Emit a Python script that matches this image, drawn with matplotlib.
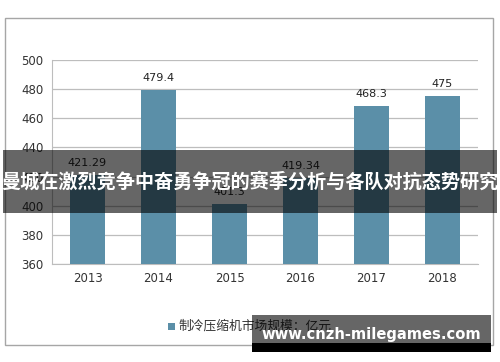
import matplotlib
matplotlib.use("Agg")
import matplotlib.pyplot as plt
from matplotlib.patches import Rectangle

plt.rcParams['font.family'] = ['Noto Sans CJK SC', 'DejaVu Sans']

years = ["2013", "2014", "2015", "2016", "2017", "2018"]
values = [421.29, 479.4, 401.3, 419.34, 468.3, 475]
value_labels = ["421.29", "479.4", "401.3", "419.34", "468.3", "475"]
yticks = [360, 380, 400, 420, 440, 460, 480, 500]
legend_text = "制冷压缩机市场规模：亿元"
banner_text = "曼城在激烈竞争中奋勇争冠的赛季分析与各队对抗态势研究"
site_text = "www.cnzh-milegames.com"

W, H = 500, 362
fig = plt.figure(figsize=(W / 100, H / 100), dpi=100)


def px(x0, y0, x1, y1):
    # pixel box (top-left origin) -> figure fraction rect
    return [x0 / W, 1 - y1 / H, (x1 - x0) / W, (y1 - y0) / H]


def box(x0, y0, x1, y1, **kw):
    fig.patches.append(Rectangle((x0 / W, 1 - y1 / H), (x1 - x0) / W,
                                 (y1 - y0) / H, transform=fig.transFigure,
                                 **kw))


# outer chart frame
box(5, 18, 493, 345, fill=False, edgecolor="#a6a6a6", linewidth=1.0)

ax = fig.add_axes(px(52, 60, 478, 264))
bar_color = "#5b8fa8"
ax.bar(range(len(years)), values, width=0.48, bottom=0,
       color=bar_color, zorder=3)
ax.set_xlim(-0.5, len(years) - 0.5)
ax.set_ylim(360, 500)
ax.set_yticks(yticks)
ax.set_yticklabels([str(t) for t in yticks], fontsize=8.5, color="#333333",
                   family="DejaVu Sans")
ax.set_xticks(range(len(years)))
ax.set_xticklabels(years, fontsize=8.5, color="#333333", family="DejaVu Sans")
ax.tick_params(length=0, pad=6)
ax.grid(axis="y", color="#bdbdbd", linewidth=0.9, zorder=0)
for s in ["top", "right"]:
    ax.spines[s].set_visible(False)
for s in ["left", "bottom"]:
    ax.spines[s].set_color("#bdbdbd")

for i, (v, lab) in enumerate(zip(values, value_labels)):
    ax.annotate(lab, (i, v), xytext=(0, 5), textcoords="offset points",
                ha="center", va="bottom", fontsize=8, color="#222222",
                family="DejaVu Sans")

# legend
box(168, 323, 175, 330, facecolor=bar_color, linewidth=0)
fig.text(178 / W, 1 - 326 / H, legend_text, fontsize=9.2, color="#333333",
         va="center", ha="left")

# banner overlay
box(3, 150, 497, 213, facecolor="black", alpha=0.6, linewidth=0, zorder=10)
fig.text(0.5, 1 - 182 / H, banner_text, fontsize=13.8, fontweight="bold",
         color="white", ha="center", va="center", zorder=11)

# site watermark
box(252, 315, 491, 343, facecolor="black", alpha=0.6, linewidth=0, zorder=10)
box(252, 343, 491, 352, facecolor="black", linewidth=0, zorder=10)
fig.text(371 / W, 1 - 335 / H, site_text, fontsize=10.6, fontweight="bold",
         color="white", ha="center", va="center", zorder=11,
         family="DejaVu Sans")

fig.savefig("out.png", dpi=100)
